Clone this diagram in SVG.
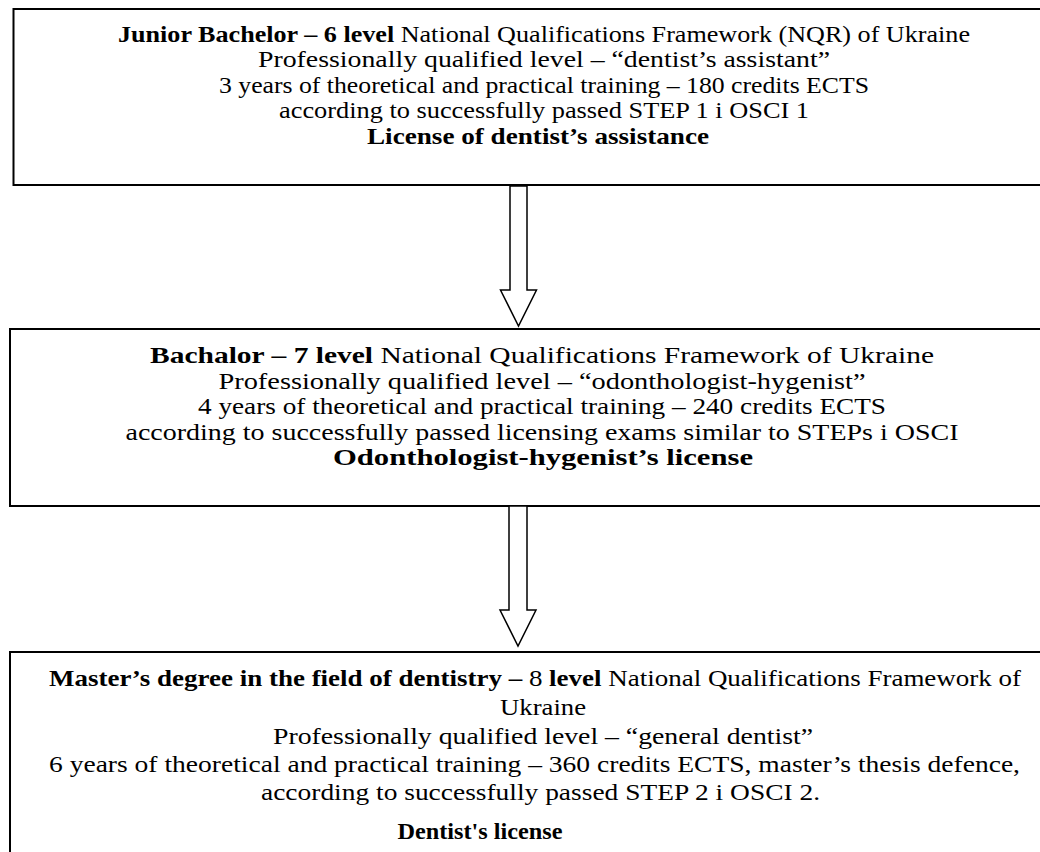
<svg xmlns="http://www.w3.org/2000/svg" width="1040" height="852" viewBox="0 0 1040 852">
<style>
.box{fill:#fff;stroke:#000;stroke-width:2}
.t{font-family:"Liberation Serif","Times New Roman",serif;font-size:24px;fill:#000;text-anchor:middle}
.b{font-weight:bold}
.arr{fill:#fff;stroke:#000;stroke-width:1.5;stroke-linejoin:miter}
</style>
<rect width="1040" height="852" fill="#fff"/>
<g id="node-junior">
<rect class="box" x="13.5" y="9" width="1040" height="176"/>
<text class="t" x="544" y="42" textLength="852" lengthAdjust="spacingAndGlyphs"><tspan class="b">Junior Bachelor – 6 level</tspan> National Qualifications Framework (NQR) of Ukraine</text>
<text class="t" x="544" y="67" textLength="572" lengthAdjust="spacingAndGlyphs">Professionally qualified level – “dentist’s assistant”</text>
<text class="t" x="544" y="93" textLength="650" lengthAdjust="spacingAndGlyphs">3 years of theoretical and practical training – 180 credits ECTS</text>
<text class="t" x="544" y="118" textLength="530" lengthAdjust="spacingAndGlyphs">according to successfully passed STEP 1 i OSCI 1</text>
<text class="t b" x="538" y="144" textLength="342" lengthAdjust="spacingAndGlyphs">License of dentist’s assistance</text>
</g>
<g id="node-bachelor">
<rect class="box" x="10" y="329" width="1040" height="177"/>
<text class="t" x="542" y="363" textLength="784" lengthAdjust="spacingAndGlyphs"><tspan class="b">Bachalor – 7 level</tspan> National Qualifications Framework of Ukraine</text>
<text class="t" x="542" y="389" textLength="647" lengthAdjust="spacingAndGlyphs">Professionally qualified level – “odonthologist-hygenist”</text>
<text class="t" x="542" y="414" textLength="688" lengthAdjust="spacingAndGlyphs">4 years of theoretical and practical training – 240 credits ECTS</text>
<text class="t" x="542" y="440" textLength="833" lengthAdjust="spacingAndGlyphs">according to successfully passed licensing exams similar to STEPs i OSCI</text>
<text class="t b" x="543" y="465" textLength="420" lengthAdjust="spacingAndGlyphs">Odonthologist-hygenist’s license</text>
</g>
<g id="node-master">
<rect class="box" x="10" y="652" width="1040" height="220"/>
<text class="t" x="535" y="686" textLength="972" lengthAdjust="spacingAndGlyphs"><tspan class="b">Master’s degree in the field of dentistry –</tspan> 8 <tspan class="b">level</tspan> National Qualifications Framework of</text>
<text class="t" x="543" y="715" textLength="86" lengthAdjust="spacingAndGlyphs">Ukraine</text>
<text class="t" x="543" y="744" textLength="540" lengthAdjust="spacingAndGlyphs">Professionally qualified level – “general dentist”</text>
<text class="t" x="534.5" y="772" textLength="971" lengthAdjust="spacingAndGlyphs">6 years of theoretical and practical training – 360 credits ECTS, master’s thesis defence,</text>
<text class="t" x="540.5" y="800" textLength="559" lengthAdjust="spacingAndGlyphs">according to successfully passed STEP 2 i OSCI 2.</text>
<text class="t b" x="480" y="839" textLength="165" lengthAdjust="spacingAndGlyphs">Dentist's license</text>
</g>
<g id="connectors">
<polygon class="arr" points="510,186 527,186 527,290 536.5,290 518.5,326 500.5,290 510,290"/>
<polygon class="arr" points="509,506 527,506 527,610 536,610 518,646 500,610 509,610"/>
</g>
</svg>
